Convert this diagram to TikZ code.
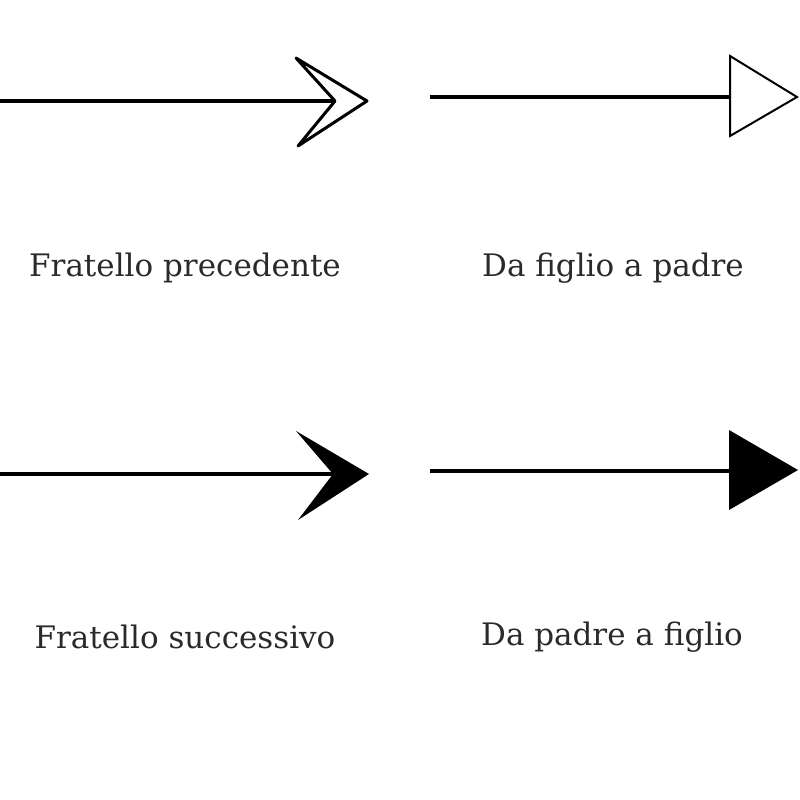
\documentclass[tikz,border=0pt]{standalone}
\usepackage{fontspec}
\setmainfont{DejaVu Serif}
\definecolor{txt}{HTML}{2A2A2A}
\begin{document}
\begin{tikzpicture}[x=1pt,y=-1pt,
  shaft/.style={line width=4.5pt},
  lbl/.style={font=\fontsize{31}{36}\selectfont, text=txt, inner sep=0pt}]
\useasboundingbox (0,0) rectangle (800,800);
% top-left: open barbed
\coordinate (a1s) at (0,101);
\coordinate (a1t) at (367,101);
\draw[line width=3pt, line join=round, fill=white] (a1t) -- (296,58) -- (335,101) -- (298,146) -- cycle;
\draw[shaft] (a1s) -- (335,101);
% top-right: open triangle
\coordinate (a2s) at (430,97);
\coordinate (a2b) at (730,97);
\draw[shaft] (a2s) -- (a2b);
\draw[line width=2pt, fill=white] (730,56) -- (797,97) -- (730,136) -- cycle;
% bottom-left: filled barbed
\coordinate (a3s) at (0,474);
\draw[shaft] (a3s) -- (340,474);
\fill (369,474) -- (296,431) -- (333,474) -- (298,520) -- cycle;
% bottom-right: filled triangle
\coordinate (a4s) at (430,471);
\draw[shaft] (a4s) -- (735,471);
\fill (729,430) -- (798,470) -- (729,510) -- cycle;
% labels
\node[lbl] (l1) at (185,268) {Fratello precedente};
\node[lbl] (l2) at (613,268) {Da figlio a padre};
\node[lbl] (l3) at (185,637) {Fratello successivo};
\node[lbl] (l4) at (612,637) {Da padre a figlio};
\end{tikzpicture}
\end{document}
